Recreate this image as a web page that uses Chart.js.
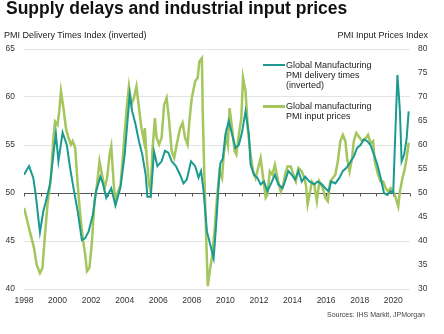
<!DOCTYPE html>
<html>
<head>
<meta charset="utf-8">
<script src="https://cdn.jsdelivr.net/npm/chart.js@4.4.0/dist/chart.umd.min.js"></script>
<style>
  body { margin: 0; background: #fff; font-family: "Liberation Sans", Arial, Helvetica, sans-serif; }
  #wrap { position: relative; width: 444px; height: 334px; overflow: hidden; }
  #chart { position: absolute; left: 0; top: 0; }
  .txt { position: absolute; white-space: nowrap; color: #222; }
  .title { left: 6px; top: 0px; font-size: 17.5px; line-height: 17px; font-weight: bold; color: #111; }
  .axl { left: 4px; top: 30px; font-size: 9px; line-height: 10px; }
  .axr { right: 16px; top: 30px; font-size: 9px; line-height: 10px; }
  .leg { left: 286px; font-size: 9px; line-height: 10px; }
  .swatch { position: absolute; left: 263px; width: 22px; }
  .src { right: 19px; top: 311px; font-size: 7px; line-height: 8px; color: #444; }
</style>
</head>
<body>
<div id="wrap">
  <canvas id="chart" width="444" height="334"></canvas>
  <div class="txt title">Supply delays and industrial input prices</div>
  <div class="txt axl">PMI Delivery Times Index (inverted)</div>
  <div class="txt axr">PMI Input Prices Index</div>
  <div class="swatch" style="top:64px;height:2px;background:#1a9a90"></div>
  <div class="txt leg" style="top:60px">Global Manufacturing<br>PMI delivery times<br>(inverted)</div>
  <div class="swatch" style="top:105px;height:3px;background:#a4c65c"></div>
  <div class="txt leg" style="top:101px">Global manufacturing<br>PMI input prices</div>
  <div class="txt src">Sources: IHS Markit, JPMorgan</div>
</div>
<script>
// delivery times (inverted), left axis
var deliveryYears = [1998.0,1998.3,1998.55,1998.7,1998.95,1999.15,1999.3,1999.55,1999.75,1999.9,
  2000.05,2000.3,2000.55,2000.75,2000.95,2001.2,2001.45,2001.65,2001.85,2002.1,
  2002.3,2002.55,2002.7,2002.9,2003.2,2003.45,2003.75,2004.0,2004.3,2004.45,
  2004.65,2004.85,2005.05,2005.25,2005.35,2005.55,2005.75,2005.95,2006.2,2006.4,
  2006.6,2006.8,2007.05,2007.3,2007.5,2007.7,2007.95,2008.2,2008.4,2008.55,
  2008.7,2008.9,2009.1,2009.3,2009.45,2009.6,2009.7,2009.85,2010.0,2010.2,
  2010.4,2010.6,2010.8,2011.0,2011.2,2011.4,2011.5,2011.7,2011.9,2012.1,
  2012.3,2012.5,2012.7,2012.95,2013.15,2013.4,2013.55,2013.75,2013.95,2014.15,
  2014.35,2014.55,2014.75,2015.0,2015.3,2015.5,2015.75,2015.95,2016.15,2016.3,
  2016.55,2016.8,2017.0,2017.2,2017.4,2017.65,2017.85,2018.05,2018.25,2018.45,
  2018.65,2018.85,2019.05,2019.25,2019.45,2019.65,2019.85,2020.0,2020.1,2020.25,
  2020.4,2020.5,2020.65,2020.8,2020.92];
var deliveryIndex = [51.9,52.8,51.6,49.8,45.9,48.1,49.1,50.9,54.0,56.2,
  53.3,56.3,55.0,52.6,50.5,48.1,45.1,45.3,46.0,47.7,
  50.2,51.7,51.0,49.5,50.5,48.7,50.6,54.0,60.3,58.5,
  57.1,55.4,54.0,51.9,49.6,49.6,54.3,52.8,53.3,54.4,
  54.2,53.3,52.8,51.9,51.0,51.4,53.3,52.8,51.6,52.3,
  50.2,46.0,44.6,43.2,46.7,50.9,53.1,53.6,56.1,57.5,
  56.1,54.7,55.0,56.4,58.5,56.1,53.0,51.9,51.6,50.9,
  51.2,50.2,50.9,51.9,50.9,50.5,51.2,52.3,51.9,51.4,
  52.3,51.2,51.7,51.2,50.9,51.2,50.9,50.5,50.2,51.2,
  51.0,51.6,52.3,52.6,53.1,53.8,54.7,55.0,55.6,55.4,
  55.0,54.0,53.0,51.6,50.0,49.8,50.2,50.0,55.0,62.3,
  58.5,53.3,54.0,55.7,58.5];

// input prices, right axis
var pricesYears = [1998.0,1998.25,1998.45,1998.6,1998.75,1998.95,1999.1,1999.25,1999.4,1999.6,
  1999.75,1999.85,2000.0,2000.1,2000.2,2000.35,2000.5,2000.65,2000.8,2000.9,
  2001.05,2001.2,2001.35,2001.5,2001.65,2001.75,2001.9,2002.05,2002.2,2002.35,
  2002.5,2002.65,2002.8,2002.95,2003.1,2003.2,2003.35,2003.45,2003.6,2003.75,
  2003.9,2004.1,2004.25,2004.4,2004.55,2004.7,2004.85,2005.0,2005.15,2005.2,
  2005.3,2005.45,2005.55,2005.65,2005.8,2005.9,2006.05,2006.2,2006.35,2006.5,
  2006.65,2006.8,2006.95,2007.1,2007.3,2007.45,2007.6,2007.75,2007.85,2008.0,
  2008.2,2008.35,2008.45,2008.6,2008.65,2008.75,2008.85,2008.95,2009.1,2009.2,
  2009.35,2009.5,2009.65,2009.8,2009.9,2010.05,2010.15,2010.25,2010.4,2010.55,
  2010.65,2010.8,2010.95,2011.05,2011.2,2011.35,2011.5,2011.65,2011.8,2011.95,
  2012.1,2012.25,2012.4,2012.5,2012.65,2012.8,2012.95,2013.15,2013.3,2013.45,
  2013.55,2013.7,2013.9,2014.05,2014.2,2014.35,2014.55,2014.7,2014.8,2014.9,
  2015.05,2015.15,2015.3,2015.45,2015.6,2015.8,2015.95,2016.1,2016.25,2016.4,
  2016.55,2016.7,2016.85,2017.0,2017.15,2017.25,2017.4,2017.55,2017.65,2017.8,
  2018.0,2018.15,2018.3,2018.5,2018.65,2018.8,2018.9,2019.1,2019.25,2019.4,
  2019.55,2019.7,2019.85,2020.0,2020.15,2020.3,2020.4,2020.55,2020.7,2020.8,
  2020.92];
var pricesIndex = [46.9,43.4,40.6,38.5,35.1,33.3,34.4,41.3,47.6,53.1,
  61.5,64.9,64.2,67.0,71.2,67.7,63.5,61.5,60.1,60.8,
  59.4,51.7,45.5,40.6,37.1,33.7,34.4,39.9,48.3,51.7,
  56.6,53.8,51.0,53.1,58.0,59.7,51.7,48.3,50.3,51.7,
  58.0,67.0,72.2,68.4,69.8,72.2,67.7,63.5,60.8,63.5,
  58.0,51.7,50.3,58.7,65.6,61.5,60.1,61.5,68.4,69.8,
  64.9,58.7,57.3,60.1,63.5,64.6,61.5,60.1,64.9,69.8,
  73.3,74.0,77.4,78.1,67.0,53.1,41.3,30.6,34.5,36.5,
  42.0,49.0,54.5,53.1,58.0,62.1,60.1,67.7,63.5,58.7,
  58.0,62.1,65.6,74.0,71.2,62.8,58.0,54.5,53.1,55.2,
  57.3,53.1,49.0,49.6,54.5,53.8,55.9,52.4,50.3,51.7,
  53.8,55.5,55.5,53.8,52.4,55.2,54.5,53.1,51.7,47.6,
  50.3,52.4,51.7,48.3,52.4,51.0,49.0,48.3,52.4,53.1,
  53.8,56.6,60.8,62.1,60.8,57.3,54.5,57.3,60.8,62.5,
  61.5,60.8,61.1,62.1,60.4,60.8,56.6,53.8,52.4,52.4,
  51.0,50.3,51.0,50.3,49.0,47.2,50.3,53.1,55.2,57.3,
  60.5];

var tickYears = [1998,1999,2000,2001,2002,2003,2004,2005,2006,2007,2008,2009,2010,
  2011,2012,2013,2014,2015,2016,2017,2018,2019,2020,2021];

var teal = '#1a9a90';
var green = '#a4c65c';
var tickFont = { family: '"Liberation Sans", Arial, Helvetica, sans-serif', size: 8.5 };

function toPoints(xs, ys) {
  var pts = [];
  for (var i = 0; i < xs.length; i++) {
    pts.push({ x: xs[i], y: ys[i] });
  }
  return pts;
}

// small year ticks hanging off the 50 line
var yearTicks = {
  id: 'yearTicks',
  beforeDatasetsDraw: function (chart) {
    var ctx = chart.ctx;
    var x = chart.scales.x, y = chart.scales.y;
    var y50 = Math.round(y.getPixelForValue(50)) + 0.5;
    ctx.save();
    ctx.strokeStyle = '#555';
    ctx.lineWidth = 1;
    for (var i = 0; i < tickYears.length; i++) {
      var px = Math.round(x.getPixelForValue(tickYears[i])) + 0.5;
      ctx.beginPath();
      ctx.moveTo(px, y50);
      ctx.lineTo(px, y50 + 3);
      ctx.stroke();
    }
    ctx.restore();
  }
};

var ctx = document.getElementById('chart');
var chart = new Chart(ctx, {
  type: 'line',
  data: {
    datasets: [{
      label: 'Global Manufacturing PMI delivery times (inverted)',
      data: toPoints(deliveryYears, deliveryIndex),
      yAxisID: 'y',
      borderColor: teal,
      borderWidth: 2,
      pointRadius: 0,
      tension: 0
    }, {
      label: 'Global manufacturing PMI input prices',
      data: toPoints(pricesYears, pricesIndex),
      yAxisID: 'y1',
      borderColor: green,
      borderWidth: 2.5,
      pointRadius: 0,
      tension: 0
    }]
  },
  options: {
    responsive: false,
    animation: false,
    layout: { padding: { top: 49, left: 0, right: 0, bottom: 0 } },
    plugins: { legend: { display: false }, tooltip: { enabled: false } },
    scales: {
      x: {
        type: 'linear', min: 1998, max: 2021,
        grid: { display: false, drawTicks: false },
        border: { display: false },
        ticks: {
          stepSize: 2, includeBounds: false, autoSkip: false, maxRotation: 0,
          padding: 7, color: '#333', font: tickFont,
          callback: function (v) { return String(v); }
        },
        afterFit: function (s) { s.height = 45; }
      },
      y: {
        position: 'left', min: 40, max: 65,
        grid: {
          drawTicks: false,
          color: function (c) { return c.tick && c.tick.value === 50 ? '#555' : '#e4e4e4'; }
        },
        border: { display: false },
        ticks: { stepSize: 5, padding: 9, color: '#333', font: tickFont },
        afterFit: function (s) { s.width = 24; }
      },
      y1: {
        position: 'right', min: 30, max: 80,
        grid: { display: false, drawTicks: false },
        border: { display: false },
        ticks: { stepSize: 5, padding: 8, color: '#333', font: tickFont },
        afterFit: function (s) { s.width = 34; }
      }
    }
  },
  plugins: [yearTicks]
});
</script>
</body>
</html>
